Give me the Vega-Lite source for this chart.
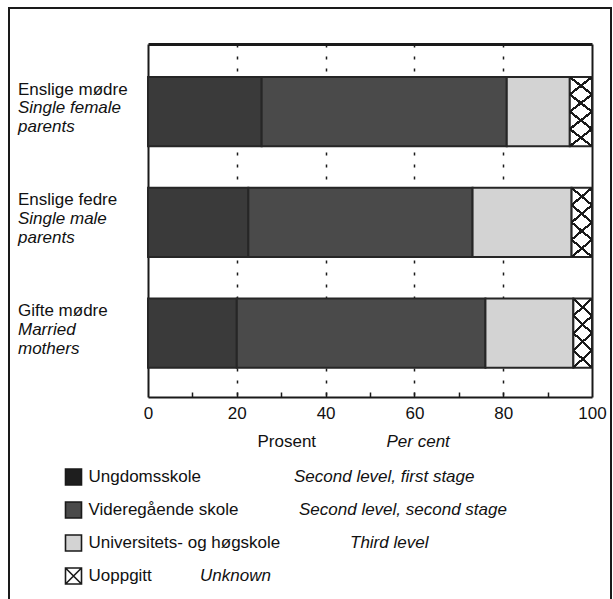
{
  "$schema": "https://vega.github.io/schema/vega-lite/v6.json",
  "width": 602,
  "height": 594,
  "autosize": {"type": "none"},
  "padding": {"left": 9, "top": 8, "right": 2, "bottom": -3},
  "background": "white",
  "config": {
    "view": {"stroke": "#1a1a1a", "strokeWidth": 2},
    "font": "Liberation Sans",
    "axis": {"labelFont": "Liberation Sans", "titleFont": "Liberation Sans", "labelColor": "#111111", "titleColor": "#111111", "domainColor": "#1a1a1a"},
    "text": {"font": "Liberation Sans", "fontSize": 17, "color": "#111111"}
  },
  "datasets": {
    "bars": [
      {"group": "Enslige mødre", "level": "Ungdomsskole", "value": 25.6},
      {"group": "Enslige mødre", "level": "Videregående skole", "value": 55.2},
      {"group": "Enslige mødre", "level": "Universitets- og høgskole", "value": 14.2},
      {"group": "Enslige mødre", "level": "Uoppgitt", "value": 5.0},
      {"group": "Enslige fedre", "level": "Ungdomsskole", "value": 22.6},
      {"group": "Enslige fedre", "level": "Videregående skole", "value": 50.5},
      {"group": "Enslige fedre", "level": "Universitets- og høgskole", "value": 22.3},
      {"group": "Enslige fedre", "level": "Uoppgitt", "value": 4.6},
      {"group": "Gifte mødre", "level": "Ungdomsskole", "value": 20.0},
      {"group": "Gifte mødre", "level": "Videregående skole", "value": 56.0},
      {"group": "Gifte mødre", "level": "Universitets- og høgskole", "value": 19.8},
      {"group": "Gifte mødre", "level": "Uoppgitt", "value": 4.2}
    ],
    "legend": [
      {"row": 1, "level": "Ungdomsskole", "en": "Second level, first stage"},
      {"row": 2, "level": "Videregående skole", "en": "Second level, second stage"},
      {"row": 3, "level": "Universitets- og høgskole", "en": "Third level"},
      {"row": 4, "level": "Uoppgitt", "en": "Unknown"}
    ]
  },
  "resolve": {"scale": {"x": "independent", "y": "independent"}},
  "layer": [
    {
      "data": {"name": "bars"},
      "transform": [
        {"calculate": "indexof(['Ungdomsskole','Videregående skole','Universitets- og høgskole','Uoppgitt'], datum.level)", "as": "ord"},
        {"stack": "value", "groupby": ["group"], "sort": [{"field": "ord", "order": "ascending"}], "as": ["x0", "x1"]}
      ],
      "mark": {"type": "bar", "stroke": "#262626", "strokeWidth": 2},
      "encoding": {
        "x": {
          "field": "x0", "type": "quantitative",
          "scale": {"domain": [0, 100], "range": [139, 583], "nice": false, "zero": false},
          "axis": {"orient": "bottom", "offset": -205, "values": [0, 20, 40, 60, 80, 100], "format": "d", "ticks": false, "tickSize": 0, "grid": false, "domain": true, "domainWidth": 2, "labelFontSize": 17, "labelPadding": 8, "labelFlush": false, "title": "Prosent", "titleFontSize": 17, "titleFontWeight": "normal", "titleX": 248, "titleY": 44, "titleAlign": "left", "titleBaseline": "middle"}
        },
        "x2": {"field": "x1"},
        "y": {
          "field": "group", "type": "nominal",
          "scale": {"domain": ["Enslige mødre", "Enslige fedre", "Gifte mødre"], "range": [36, 389], "paddingInner": 0.375, "paddingOuter": 0.282, "align": 0.53},
          "axis": {"orient": "left", "offset": -139, "ticks": false, "tickSize": 0, "domain": true, "domainWidth": 2, "grid": false, "labelAlign": "left", "labelBaseline": "middle", "labelPadding": 130.5, "labelOffset": -22, "labelFontSize": 17, "labelLimit": 200, "title": null}
        },
        "color": {
          "field": "level", "type": "nominal",
          "scale": {"domain": ["Ungdomsskole", "Videregående skole", "Universitets- og høgskole", "Uoppgitt"], "range": ["#3a3a3a", "#4a4a4a", "#d3d3d3", "#ffffff"]},
          "legend": null
        }
      }
    },
    {
      "data": {"name": "bars"},
      "transform": [
        {"calculate": "indexof(['Ungdomsskole','Videregående skole','Universitets- og høgskole','Uoppgitt'], datum.level)", "as": "ord"},
        {"stack": "value", "groupby": ["group"], "sort": [{"field": "ord", "order": "ascending"}], "as": ["x0", "x1"]},
        {"filter": "datum.level == 'Uoppgitt'"}
      ],
      "mark": {
        "type": "bar", "strokeWidth": 0,
        "fill": {"gradient": "linear", "x1": 0, "y1": 0, "x2": 0.294, "y2": 1.176, "stops": [
          {"offset": 0, "color": "rgba(0,0,0,0)"},
          {"offset": 0.183, "color": "rgba(0,0,0,0)"}, {"offset": 0.183, "color": "#1a1a1a"}, {"offset": 0.217, "color": "#1a1a1a"}, {"offset": 0.217, "color": "rgba(0,0,0,0)"},
          {"offset": 0.383, "color": "rgba(0,0,0,0)"}, {"offset": 0.383, "color": "#1a1a1a"}, {"offset": 0.417, "color": "#1a1a1a"}, {"offset": 0.417, "color": "rgba(0,0,0,0)"},
          {"offset": 0.583, "color": "rgba(0,0,0,0)"}, {"offset": 0.583, "color": "#1a1a1a"}, {"offset": 0.617, "color": "#1a1a1a"}, {"offset": 0.617, "color": "rgba(0,0,0,0)"},
          {"offset": 0.783, "color": "rgba(0,0,0,0)"}, {"offset": 0.783, "color": "#1a1a1a"}, {"offset": 0.817, "color": "#1a1a1a"}, {"offset": 0.817, "color": "rgba(0,0,0,0)"},
          {"offset": 1, "color": "rgba(0,0,0,0)"}
        ]}
      },
      "encoding": {
        "x": {
          "field": "x0", "type": "quantitative",
          "scale": {"domain": [0, 100], "range": [139, 583], "nice": false, "zero": false},
          "axis": {"orient": "top", "offset": -36, "values": [20, 40, 60, 80], "ticks": false, "labels": false, "domain": true, "domainWidth": 3, "grid": true, "gridDash": [3, 9], "gridColor": "#1a1a1a", "gridWidth": 1.5, "gridOpacity": 1, "title": null}
        },
        "x2": {"field": "x1"},
        "y": {
          "field": "group", "type": "nominal",
          "scale": {"domain": ["Enslige mødre", "Enslige fedre", "Gifte mødre"], "range": [36, 389], "paddingInner": 0.375, "paddingOuter": 0.282, "align": 0.53},
          "axis": {"orient": "right", "offset": -19, "ticks": false, "labels": false, "domain": true, "domainWidth": 2, "grid": false, "title": null}
        }
      }
    },
    {
      "data": {"name": "bars"},
      "transform": [
        {"calculate": "indexof(['Ungdomsskole','Videregående skole','Universitets- og høgskole','Uoppgitt'], datum.level)", "as": "ord"},
        {"stack": "value", "groupby": ["group"], "sort": [{"field": "ord", "order": "ascending"}], "as": ["x0", "x1"]},
        {"filter": "datum.level == 'Uoppgitt'"}
      ],
      "mark": {
        "type": "bar", "strokeWidth": 0,
        "fill": {"gradient": "linear", "x1": 0, "y1": 1, "x2": 0.294, "y2": -0.176, "stops": [
          {"offset": 0, "color": "rgba(0,0,0,0)"},
          {"offset": 0.183, "color": "rgba(0,0,0,0)"}, {"offset": 0.183, "color": "#1a1a1a"}, {"offset": 0.217, "color": "#1a1a1a"}, {"offset": 0.217, "color": "rgba(0,0,0,0)"},
          {"offset": 0.383, "color": "rgba(0,0,0,0)"}, {"offset": 0.383, "color": "#1a1a1a"}, {"offset": 0.417, "color": "#1a1a1a"}, {"offset": 0.417, "color": "rgba(0,0,0,0)"},
          {"offset": 0.583, "color": "rgba(0,0,0,0)"}, {"offset": 0.583, "color": "#1a1a1a"}, {"offset": 0.617, "color": "#1a1a1a"}, {"offset": 0.617, "color": "rgba(0,0,0,0)"},
          {"offset": 0.783, "color": "rgba(0,0,0,0)"}, {"offset": 0.783, "color": "#1a1a1a"}, {"offset": 0.817, "color": "#1a1a1a"}, {"offset": 0.817, "color": "rgba(0,0,0,0)"},
          {"offset": 1, "color": "rgba(0,0,0,0)"}
        ]}
      },
      "encoding": {
        "x": {
          "field": "x0", "type": "quantitative",
          "scale": {"domain": [0, 100], "range": [139, 583], "nice": false, "zero": false},
          "axis": {"orient": "bottom", "offset": -210, "values": [10, 20, 30, 40, 50, 60, 70, 80, 90], "ticks": true, "tickSize": 5, "tickWidth": 1.5, "tickColor": "#1a1a1a", "labels": false, "domain": false, "grid": false, "title": "Per cent", "titleFontStyle": "italic", "titleFontWeight": "normal", "titleFontSize": 17, "titleX": 377, "titleY": 49, "titleAlign": "left", "titleBaseline": "middle"}
        },
        "x2": {"field": "x1"},
        "y": {
          "field": "group", "type": "nominal",
          "scale": {"domain": ["Enslige mødre", "Enslige fedre", "Gifte mødre"], "range": [36, 389], "paddingInner": 0.375, "paddingOuter": 0.282, "align": 0.53},
          "axis": {"orient": "left", "offset": -139, "ticks": false, "tickSize": 0, "domain": false, "grid": false, "labelAlign": "left", "labelBaseline": "middle", "labelPadding": 130.5, "labelOffset": -3.5, "labelFontSize": 17, "labelFontStyle": "italic", "labelLineHeight": 19, "labelLimit": 200, "labelExpr": "datum.label == 'Enslige mødre' ? ['Single female', 'parents'] : datum.label == 'Enslige fedre' ? ['Single male', 'parents'] : ['Married', 'mothers']", "title": null}
        }
      }
    },
    {
      "data": {"name": "legend"},
      "mark": {"type": "point", "filled": true, "size": 256, "stroke": "#1a1a1a", "strokeWidth": 1.6, "opacity": 1},
      "encoding": {
        "x": {"value": 64.5},
        "y": {"field": "row", "type": "ordinal", "scale": {"type": "point", "domain": [1, 2, 3, 4], "range": [469, 568], "padding": 0}, "axis": null},
        "fill": {
          "field": "level", "type": "nominal",
          "scale": {"domain": ["Ungdomsskole", "Videregående skole", "Universitets- og høgskole", "Uoppgitt"], "range": ["#1e1e1e", "#4a4a4a", "#d3d3d3", "#ffffff"]},
          "legend": null
        },
        "shape": {
          "field": "level", "type": "nominal",
          "scale": {"domain": ["Ungdomsskole", "Videregående skole", "Universitets- og høgskole", "Uoppgitt"], "range": ["square", "square", "square", "M-1,-1H1V1H-1Z M-1,-1L1,1 M1,-1L-1,1"]},
          "legend": null
        }
      }
    },
    {
      "data": {"name": "legend"},
      "mark": {"type": "text", "align": "left", "baseline": "middle", "fontSize": 17},
      "encoding": {
        "x": {"value": 79.5},
        "y": {"field": "row", "type": "ordinal", "scale": {"type": "point", "domain": [1, 2, 3, 4], "range": [469, 568], "padding": 0}, "axis": null},
        "text": {"field": "level"}
      }
    },
    {
      "data": {"name": "legend"},
      "mark": {"type": "text", "align": "left", "baseline": "middle", "fontSize": 17, "fontStyle": "italic"},
      "encoding": {
        "x": {"field": "row", "type": "quantitative", "scale": {"domain": [1, 2, 3, 4], "range": [285, 290, 341, 191], "nice": false, "zero": false}, "axis": null},
        "y": {"field": "row", "type": "ordinal", "scale": {"type": "point", "domain": [1, 2, 3, 4], "range": [469, 568], "padding": 0}, "axis": null},
        "text": {"field": "en"}
      }
    }
  ]
}
